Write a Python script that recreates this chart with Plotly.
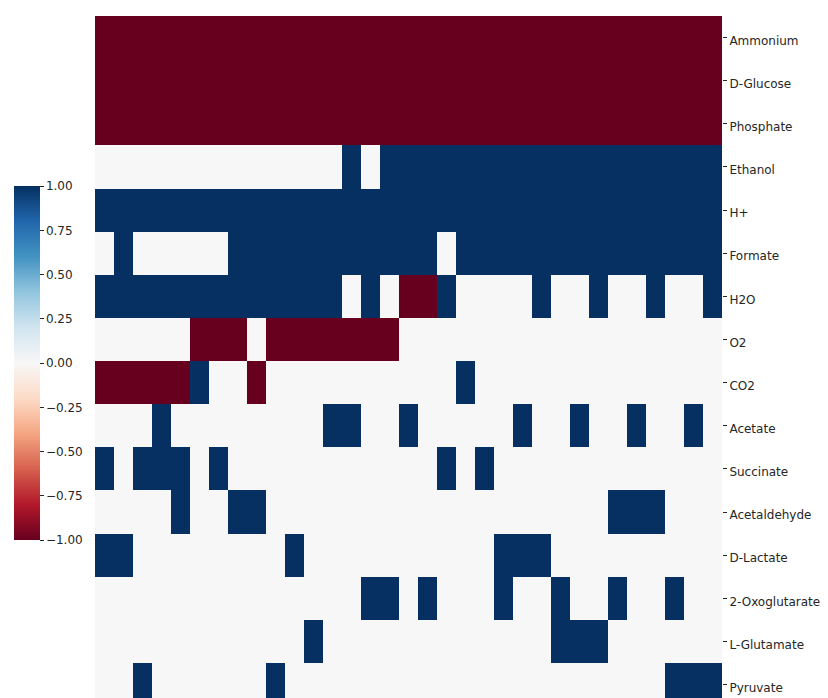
import plotly.graph_objects as go

# Metabolites (rows, top to bottom)
metabolites = ["Ammonium", "D-Glucose", "Phosphate", "Ethanol", "H+", "Formate",
               "H2O", "O2", "CO2", "Acetate", "Succinate", "Acetaldehyde",
               "D-Lactate", "2-Oxoglutarate", "L-Glutamate", "Pyruvate"]

# Exchange direction per condition (33 columns): -1 uptake, 1 secretion, 0 none
ammonium       = [-1,-1,-1,-1,-1,-1,-1,-1,-1,-1,-1,-1,-1,-1,-1,-1,-1,-1,-1,-1,-1,-1,-1,-1,-1,-1,-1,-1,-1,-1,-1,-1,-1]
d_glucose      = [-1,-1,-1,-1,-1,-1,-1,-1,-1,-1,-1,-1,-1,-1,-1,-1,-1,-1,-1,-1,-1,-1,-1,-1,-1,-1,-1,-1,-1,-1,-1,-1,-1]
phosphate      = [-1,-1,-1,-1,-1,-1,-1,-1,-1,-1,-1,-1,-1,-1,-1,-1,-1,-1,-1,-1,-1,-1,-1,-1,-1,-1,-1,-1,-1,-1,-1,-1,-1]
ethanol        = [0,0,0,0,0,0,0,0,0,0,0,0,0,1,0,1,1,1,1,1,1,1,1,1,1,1,1,1,1,1,1,1,1]
h_plus         = [1,1,1,1,1,1,1,1,1,1,1,1,1,1,1,1,1,1,1,1,1,1,1,1,1,1,1,1,1,1,1,1,1]
formate        = [0,1,0,0,0,0,0,1,1,1,1,1,1,1,1,1,1,1,0,1,1,1,1,1,1,1,1,1,1,1,1,1,1]
h2o            = [1,1,1,1,1,1,1,1,1,1,1,1,1,0,1,0,-1,-1,1,0,0,0,0,1,0,0,1,0,0,1,0,0,1]
o2             = [0,0,0,0,0,-1,-1,-1,0,-1,-1,-1,-1,-1,-1,-1,0,0,0,0,0,0,0,0,0,0,0,0,0,0,0,0,0]
co2            = [-1,-1,-1,-1,-1,1,0,0,-1,0,0,0,0,0,0,0,0,0,0,1,0,0,0,0,0,0,0,0,0,0,0,0,0]
acetate        = [0,0,0,1,0,0,0,0,0,0,0,0,1,1,0,0,1,0,0,0,0,0,1,0,0,1,0,0,1,0,0,1,0]
succinate      = [1,0,1,1,1,0,1,0,0,0,0,0,0,0,0,0,0,0,1,0,1,0,0,0,0,0,0,0,0,0,0,0,0]
acetaldehyde   = [0,0,0,0,1,0,0,1,1,0,0,0,0,0,0,0,0,0,0,0,0,0,0,0,0,0,0,1,1,1,0,0,0]
d_lactate      = [1,1,0,0,0,0,0,0,0,0,1,0,0,0,0,0,0,0,0,0,0,1,1,1,0,0,0,0,0,0,0,0,0]
oxoglutarate   = [0,0,0,0,0,0,0,0,0,0,0,0,0,0,1,1,0,1,0,0,0,1,0,0,1,0,0,1,0,0,1,0,0]
l_glutamate    = [0,0,0,0,0,0,0,0,0,0,0,1,0,0,0,0,0,0,0,0,0,0,0,0,1,1,1,0,0,0,0,0,0]
pyruvate       = [0,0,1,0,0,0,0,0,0,1,0,0,0,0,0,0,0,0,0,0,0,0,0,0,0,0,0,0,0,0,1,1,1]

z = [ammonium, d_glucose, phosphate, ethanol, h_plus, formate, h2o, o2, co2,
     acetate, succinate, acetaldehyde, d_lactate, oxoglutarate, l_glutamate, pyruvate]

cbar_ticks = [-1.0, -0.75, -0.5, -0.25, 0.0, 0.25, 0.5, 0.75, 1.0]

# ColorBrewer RdBu (red = -1, blue = +1)
rdbu = ['rgb(103,0,31)', 'rgb(178,24,43)', 'rgb(214,96,77)', 'rgb(244,165,130)',
        'rgb(253,219,199)', 'rgb(247,247,247)', 'rgb(209,229,240)', 'rgb(146,197,222)',
        'rgb(67,147,195)', 'rgb(33,102,172)', 'rgb(5,48,97)']
colorscale = [[i / (len(rdbu) - 1), c] for i, c in enumerate(rdbu)]

n_cols = len(ammonium)
text_color = "#262626"
font = dict(family="DejaVu Sans", size=12, color=text_color)

fig = go.Figure(go.Heatmap(
    z=z,
    x=list(range(n_cols)),
    y=list(range(len(metabolites))),
    zmin=-1, zmax=1,
    colorscale=colorscale,
    showscale=True,
    colorbar=dict(
        xref="container", yref="container",
        x=13.5 / 828, xanchor="left",
        y=(698 - 190.5) / 698, yanchor="top",
        thickness=26, thicknessmode="pixels",
        len=354, lenmode="pixels",
        xpad=0, ypad=0,
        outlinewidth=0,
        tickvals=cbar_ticks,
        tickformat=".2f",
        ticks="outside", ticklen=4, tickwidth=1, tickcolor=text_color,
        tickfont=font,
    ),
    hovertemplate="%{y}: %{z}<extra></extra>",
))

fig.update_layout(
    width=828, height=698,
    margin=dict(l=95, r=106, t=16, b=0),
    paper_bgcolor="white", plot_bgcolor="white",
    font=font,
)
fig.update_xaxes(range=[-0.5, n_cols - 0.5], showticklabels=False, ticks="",
                 showgrid=False, zeroline=False, showline=False)
fig.update_yaxes(
    range=[15.31, -0.5],
    side="right",
    tickvals=list(range(len(metabolites))),
    ticktext=metabolites,
    ticks="outside", ticklen=4, tickwidth=1, tickcolor=text_color,
    tickfont=font,
    ticklabelshift=-3,
    showgrid=False, zeroline=False, showline=False,
)

fig.write_html("out.html")
